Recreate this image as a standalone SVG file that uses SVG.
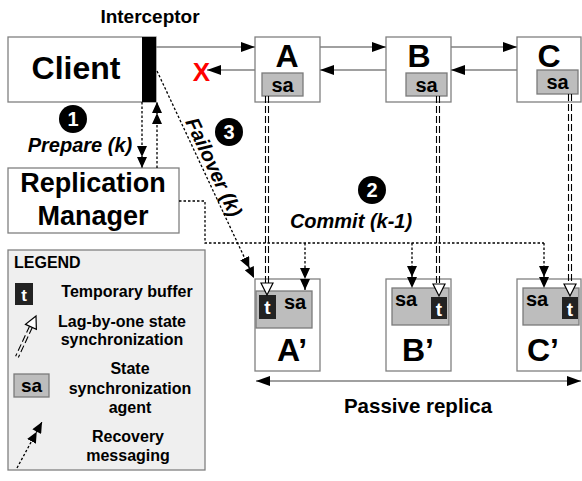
<svg xmlns="http://www.w3.org/2000/svg" width="582" height="481" viewBox="0 0 582 481">
<style>
text{font-family:"Liberation Sans",Arial,sans-serif;font-weight:bold;fill:#000}
.box{fill:#fff;stroke:#808080;stroke-width:1.3}
.sa{fill:#bdbdbd;stroke:#7a7a7a;stroke-width:1.3}
.tb{fill:#222}
.tt{fill:#fff;text-anchor:middle}
.ln{stroke:#808080;stroke-width:1.5;fill:none}
.dot{stroke:#000;stroke-width:1.3;stroke-dasharray:2.5 2;fill:none}
.dd{stroke:#000;stroke-width:1.1;stroke-dasharray:7 3;fill:none}
.hol{fill:#fff;stroke:#000;stroke-width:1.2}
.num{fill:#000}
.nt{fill:#fff;text-anchor:middle;font-size:20px}
.c{text-anchor:middle}
.it{font-style:italic;font-size:20px}
</style>
<defs>
<marker id="arr" markerWidth="14" markerHeight="10" refX="14" refY="5" orient="auto-start-reverse" markerUnits="userSpaceOnUse"><path d="M0,0 L14,5 L0,10 Z" fill="#000"/></marker>
<marker id="dbl" markerWidth="22" markerHeight="10" refX="22" refY="5" orient="auto" markerUnits="userSpaceOnUse"><path d="M0,0 L11,5 L0,10 Z M11,0 L22,5 L11,10 Z" fill="#000"/></marker>
</defs>

<text x="150" y="23" class="c" font-size="19">Interceptor</text>

<g id="client">
<rect x="8" y="37" width="148" height="65" class="box"/>
<text x="76" y="79" class="c" font-size="32">Client</text>
</g>
<g id="interceptor">
<rect x="142" y="37" width="14" height="65" fill="#000"/>
</g>

<g id="replication-manager">
<rect x="8" y="168" width="171" height="65" class="box"/>
<text x="93" y="192" class="c" font-size="27">Replication</text>
<text x="93" y="225" class="c" font-size="27">Manager</text>
</g>

<g id="A">
<rect x="255" y="37" width="65" height="65" class="box"/>
<text x="287" y="67" class="c" font-size="32">A</text>
<rect x="262" y="73" width="41" height="23" class="sa"/>
<text x="282.5" y="92" class="c" font-size="20">sa</text>
</g>
<g id="B">
<rect x="386" y="37" width="65" height="65" class="box"/>
<text x="419" y="67" class="c" font-size="32">B</text>
<rect x="406" y="73" width="41" height="23" class="sa"/>
<text x="426.5" y="92" class="c" font-size="20">sa</text>
</g>
<g id="C">
<rect x="517" y="37" width="64" height="65" class="box"/>
<text x="549" y="67" class="c" font-size="32">C</text>
<rect x="537" y="70" width="41" height="24" class="sa"/>
<text x="557.5" y="89" class="c" font-size="20">sa</text>
</g>

<g id="A-prime">
<rect x="255" y="279" width="65" height="92" class="box"/>
<rect x="256" y="291" width="56" height="37" class="sa"/>
<rect x="259" y="295" width="17" height="24" class="tb"/>
<text x="267.5" y="314" class="tt" font-size="19">t</text>
<text x="295" y="309" class="c" font-size="20">sa</text>
<text x="292" y="361" class="c" font-size="32">A’</text>
</g>
<g id="B-prime">
<rect x="386" y="279" width="65" height="92" class="box"/>
<rect x="392" y="288" width="57" height="37" class="sa"/>
<rect x="431" y="297" width="16" height="22" class="tb"/>
<text x="439" y="316" class="tt" font-size="19">t</text>
<text x="406" y="306" class="c" font-size="20">sa</text>
<text x="418" y="361" class="c" font-size="32">B’</text>
</g>
<g id="C-prime">
<rect x="517" y="279" width="64" height="92" class="box"/>
<rect x="523" y="288" width="56" height="37" class="sa"/>
<rect x="562" y="297" width="16" height="22" class="tb"/>
<text x="570" y="316" class="tt" font-size="19">t</text>
<text x="537" y="306" class="c" font-size="20">sa</text>
<text x="543" y="361" class="c" font-size="32">C’</text>
</g>

<g id="connectors">
<line x1="156" y1="47" x2="255" y2="47" class="ln" marker-end="url(#arr)"/>
<line x1="255" y1="70" x2="207" y2="70" class="ln" marker-end="url(#arr)"/>
<line x1="320" y1="47" x2="386" y2="47" class="ln" marker-end="url(#arr)"/>
<line x1="386" y1="70" x2="320" y2="70" class="ln" marker-end="url(#arr)"/>
<line x1="451" y1="47" x2="517" y2="47" class="ln" marker-end="url(#arr)"/>
<line x1="517" y1="70" x2="451" y2="70" class="ln" marker-end="url(#arr)"/>
<line x1="256" y1="381" x2="581" y2="381" class="ln" marker-start="url(#arr)" marker-end="url(#arr)"/>

<line x1="142" y1="102" x2="142" y2="168" class="dot" marker-end="url(#dbl)"/>
<line x1="157" y1="168" x2="157" y2="102" class="dot" marker-end="url(#dbl)"/>
<line x1="157" y1="71" x2="254" y2="278" class="dot" marker-end="url(#dbl)"/>
<polyline points="179,201 205,201 205,243 544,243" class="dot"/>
<line x1="305" y1="243" x2="305" y2="290" class="dot" marker-end="url(#dbl)"/>
<line x1="412" y1="243" x2="412" y2="288" class="dot" marker-end="url(#dbl)"/>
<line x1="544" y1="243" x2="544" y2="288" class="dot" marker-end="url(#dbl)"/>

<line x1="265.5" y1="96" x2="265.5" y2="284" class="dd"/>
<line x1="268.5" y1="96" x2="268.5" y2="284" class="dd"/>
<polygon points="261,283 273,283 267,295" class="hol"/>
<line x1="436.5" y1="96" x2="436.5" y2="285" class="dd"/>
<line x1="439.5" y1="96" x2="439.5" y2="285" class="dd"/>
<polygon points="433,284 445,284 439,296" class="hol"/>
<line x1="568.5" y1="94" x2="568.5" y2="285" class="dd"/>
<line x1="571.5" y1="94" x2="571.5" y2="285" class="dd"/>
<polygon points="564,284 576,284 570,296" class="hol"/>
</g>

<text x="201.5" y="81" class="c" font-size="26" style="fill:#ff0000">X</text>

<g id="step1">
<circle cx="73" cy="119" r="14" class="num"/>
<text x="73" y="126" class="nt">1</text>
<text x="80" y="152" class="c it">Prepare (k)</text>
</g>
<g id="step2">
<circle cx="372" cy="190" r="14" class="num"/>
<text x="372" y="197" class="nt">2</text>
<text x="351" y="228" class="c it">Commit (k-1)</text>
</g>
<g id="step3">
<circle cx="229" cy="132" r="14" class="num"/>
<text x="229" y="139" class="nt">3</text>
<text x="0" y="0" class="c it" transform="translate(214,167) rotate(64.9) translate(0,7)">Failover (k)</text>
</g>

<text x="418" y="413" class="c" font-size="20.5">Passive replica</text>

<g id="legend">
<rect x="8" y="250" width="197" height="220" fill="#efefef" stroke="#808080" stroke-width="1.3"/>
<text x="14" y="268" font-size="16">LEGEND</text>
<rect x="15" y="283" width="18" height="22" class="tb"/>
<text x="24" y="301" class="tt" font-size="17">t</text>
<text x="127" y="297" class="c" font-size="16">Temporary buffer</text>
<g transform="translate(36,316) rotate(25)">
<line x1="-1.5" y1="12" x2="-1.5" y2="45" class="dd"/>
<line x1="1.5" y1="12" x2="1.5" y2="45" class="dd"/>
<polygon points="-6,12 6,12 0,0" class="hol"/>
</g>
<text x="122" y="327" class="c" font-size="16">Lag-by-one state</text>
<text x="122" y="345" class="c" font-size="16">synchronization</text>
<rect x="14" y="374" width="35" height="23" class="sa"/>
<text x="31.5" y="392" class="c" font-size="19">sa</text>
<text x="130" y="374" class="c" font-size="16">State</text>
<text x="130" y="394" class="c" font-size="16">synchronization</text>
<text x="130" y="413" class="c" font-size="16">agent</text>
<line x1="17" y1="468" x2="42" y2="422" class="dot" marker-end="url(#dbl)"/>
<text x="128" y="442" class="c" font-size="16">Recovery</text>
<text x="128" y="461" class="c" font-size="16">messaging</text>
</g>
</svg>
